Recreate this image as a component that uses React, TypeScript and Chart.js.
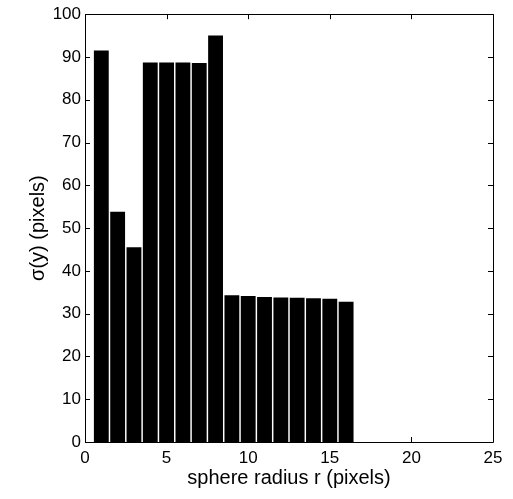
import React, { useEffect, useRef } from "react";
import { Chart, registerables } from "chart.js";

Chart.register(...registerables);

const radii = [1, 2, 3, 4, 5, 6, 7, 8, 9, 10, 11, 12, 13, 14, 15, 16];
const sigmaY = [91.5, 53.8, 45.5, 88.7, 88.7, 88.7, 88.6, 95.0, 34.3, 34.1, 33.9, 33.8, 33.7, 33.6, 33.5, 32.8];
const xTicks = [0, 5, 10, 15, 20, 25];
const yTicks = [0, 10, 20, 30, 40, 50, 60, 70, 80, 90, 100];

const FONT = "'Liberation Sans', Arial, Helvetica, sans-serif";

const boxPlugin = {
  id: "matlabBox",
  afterDraw(chart: any) {
    const { ctx, chartArea, scales } = chart;
    const { left, right, top, bottom } = chartArea;
    ctx.save();
    ctx.strokeStyle = "#000";
    ctx.lineWidth = 1;
    ctx.beginPath();
    ctx.rect(Math.round(left) + 0.5, Math.round(top) + 0.5, Math.round(right - left), Math.round(bottom - top));
    ctx.stroke();
    const len = 5;
    ctx.beginPath();
    for (const v of xTicks) {
      const px = Math.round(scales.x.getPixelForValue(v)) + 0.5;
      ctx.moveTo(px, bottom);
      ctx.lineTo(px, bottom - len);
      ctx.moveTo(px, top);
      ctx.lineTo(px, top + len);
    }
    for (const v of yTicks) {
      const py = Math.round(scales.y.getPixelForValue(v)) + 0.5;
      ctx.moveTo(left, py);
      ctx.lineTo(left + len, py);
      ctx.moveTo(right, py);
      ctx.lineTo(right - len, py);
    }
    ctx.stroke();
    ctx.restore();
  },
};

export default function App() {
  const ref = useRef<HTMLCanvasElement | null>(null);
  useEffect(() => {
    if (!ref.current) return;
    const chart = new Chart(ref.current, {
      type: "bar",
      data: {
        datasets: [
          {
            data: radii.map((r, i) => ({ x: r, y: sigmaY[i] })),
            backgroundColor: "#000",
            borderWidth: 0,
            barPercentage: 0.91,
            categoryPercentage: 1,
          },
        ],
      },
      options: {
        responsive: false,
        animation: false,
        layout: { padding: { top: 10, right: 20, left: 0, bottom: 0 } },
        plugins: { legend: { display: false }, tooltip: { enabled: false } },
        scales: {
          x: {
            type: "linear",
            min: 0,
            max: 25,
            offset: false,
            afterBuildTicks: (s: any) => {
              s.ticks = xTicks.map((v) => ({ value: v }));
            },
            afterFit: (s: any) => {
              s.height = 57;
            },
            grid: { display: false, drawTicks: false, tickLength: 0 },
            border: { display: false },
            ticks: { color: "#000", font: { family: FONT, size: 17 }, padding: 6, maxRotation: 0 },
            title: {
              display: true,
              text: "sphere radius r (pixels)",
              color: "#000",
              font: { family: FONT, size: 20 },
              padding: { top: 0, bottom: 9 },
            },
          },
          y: {
            type: "linear",
            min: 0,
            max: 100,
            afterBuildTicks: (s: any) => {
              s.ticks = yTicks.map((v) => ({ value: v }));
            },
            afterFit: (s: any) => {
              s.width = 85;
            },
            grid: { display: false, drawTicks: false, tickLength: 0 },
            border: { display: false },
            ticks: { color: "#000", font: { family: FONT, size: 17 }, padding: 4 },
            title: {
              display: true,
              text: "σ(y) (pixels)",
              color: "#000",
              font: { family: FONT, size: 20 },
              padding: { top: 26, bottom: 0 },
            },
          },
        },
      },
      plugins: [boxPlugin],
    });
    return () => chart.destroy();
  }, []);
  return (
    <div style={{ position: "absolute", left: 0, top: 0, width: 513, height: 499, background: "#fff" }}>
      <canvas ref={ref} width={513} height={499} />
    </div>
  );
}
